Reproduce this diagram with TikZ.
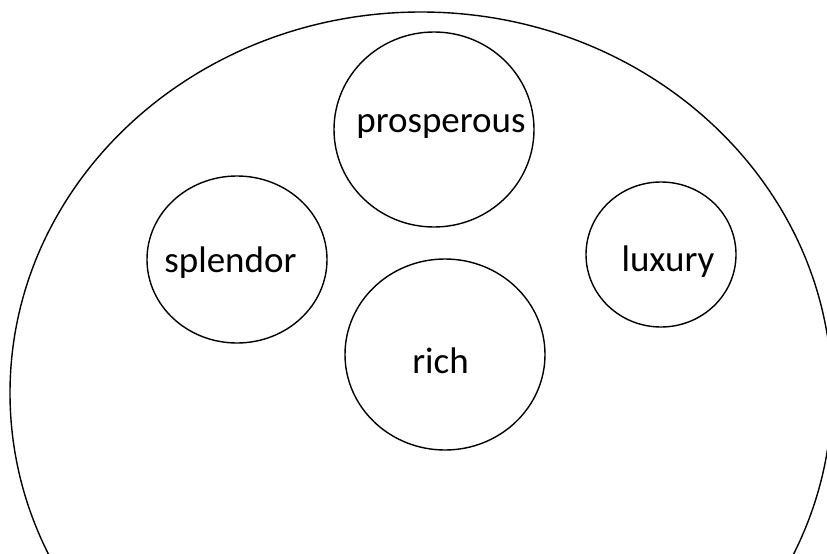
\documentclass[tikz,border=0pt]{standalone}
\usepackage{fontspec}
\setmainfont{Carlito}
\usetikzlibrary{positioning}
\usetikzlibrary{shapes.geometric}

\begin{document}
\begin{tikzpicture}[x=1pt, y=-1pt,
    blob/.style={ellipse, draw, line width=1.4pt, inner sep=0pt},
    word/.style={anchor=base, inner sep=0pt, font=\fontsize{37}{44}\selectfont}]

    % Frame and clipping of the outer region
    \clip (0,0) rectangle (827,554);

    % Outer region
    \node[blob, minimum width=822, minimum height=762] (field) at (421,393) {};

    % Inner circles
    \node[blob, minimum width=200, minimum height=195] (prosperous) at (434,129.5) {};
    \node[blob, minimum width=180, minimum height=167] (splendor) at (237,259.5) {};
    \node[blob, minimum width=150, minimum height=145] (luxury) at (661,254.5) {};
    \node[blob, minimum width=200, minimum height=191] (rich) at (445,354.5) {};

    % Labels
    \node[word] (tprosperous) at ([shift={(7,2.5)}]prosperous.center) {prosperous};
    \node[word] (tsplendor) at ([shift={(-6.5,12.5)}]splendor.center) {splendor};
    \node[word] (tluxury) at ([shift={(7,16.5)}]luxury.center) {luxury};
    \node[word] (trich) at ([shift={(-4.5,18.5)}]rich.center) {rich};
\end{tikzpicture}
\end{document}
